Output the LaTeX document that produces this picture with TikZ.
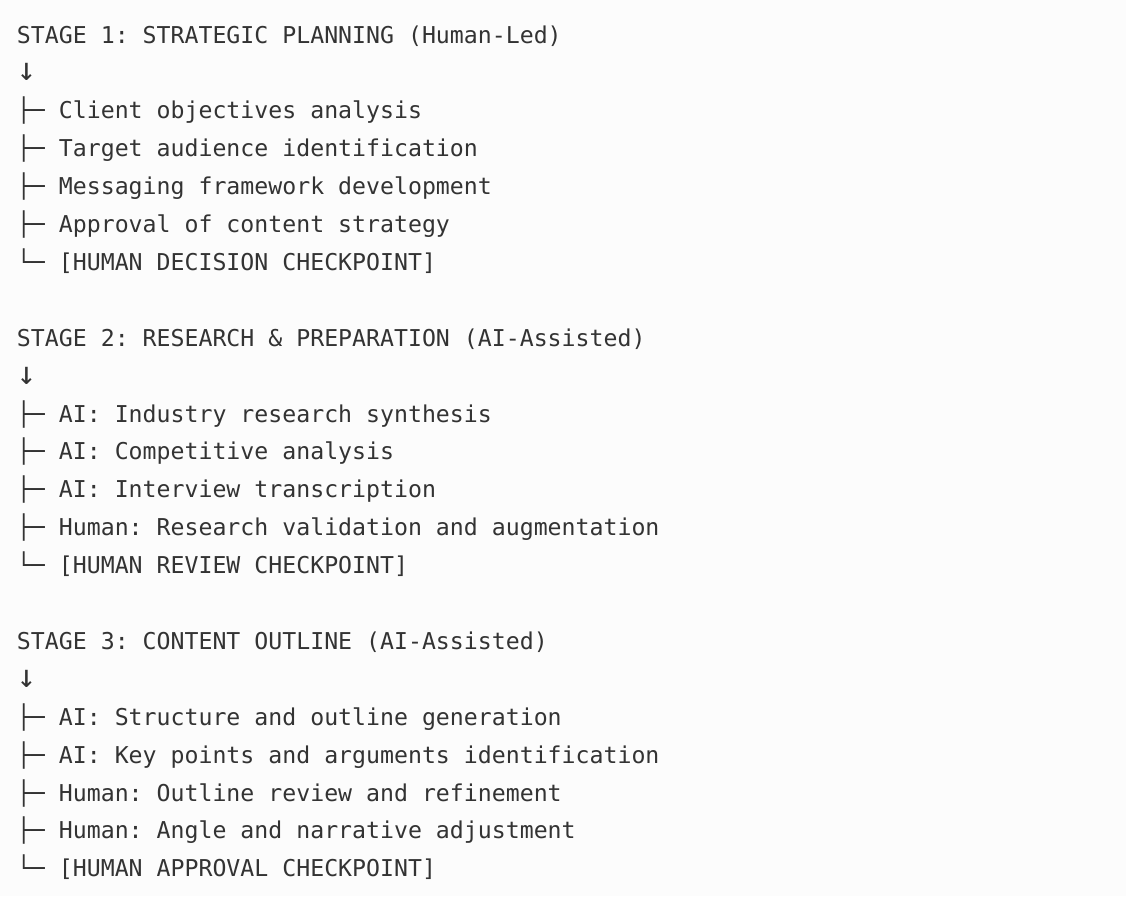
\documentclass[tikz,border=0pt]{standalone}
\usepackage{fontspec}
\setmonofont{DejaVu Sans Mono}
\definecolor{txt}{HTML}{333333}
\definecolor{bg}{HTML}{FCFCFC}
\newcommand{\dnarrow}{{\fontsize{16pt}{16pt}\selectfont ↓}}
\begin{document}
\begin{tikzpicture}[x=0.5pt,y=-0.5pt,
  ln/.style={anchor=base west,inner sep=0pt,outer sep=0pt,text=txt,font=\ttfamily\fontsize{11.6pt}{14pt}\selectfont}]
\fill[bg] (0,0) rectangle (1126,896);
\useasboundingbox (0,0) rectangle (1126,896);
\def\lp{37.9}
\foreach \i/\t [count=\k from 0] in {
  0/{STAGE 1: STRATEGIC PLANNING (Human-Led)},
  1/{\dnarrow},
  2/{├─ Client objectives analysis},
  3/{├─ Target audience identification},
  4/{├─ Messaging framework development},
  5/{├─ Approval of content strategy},
  6/{└─ [HUMAN DECISION CHECKPOINT]},
  8/{STAGE 2: RESEARCH \& PREPARATION (AI-Assisted)},
  9/{\dnarrow},
  10/{├─ AI: Industry research synthesis},
  11/{├─ AI: Competitive analysis},
  12/{├─ AI: Interview transcription},
  13/{├─ Human: Research validation and augmentation},
  14/{└─ [HUMAN REVIEW CHECKPOINT]},
  16/{STAGE 3: CONTENT OUTLINE (AI-Assisted)},
  17/{\dnarrow},
  18/{├─ AI: Structure and outline generation},
  19/{├─ AI: Key points and arguments identification},
  20/{├─ Human: Outline review and refinement},
  21/{├─ Human: Angle and narrative adjustment},
  22/{└─ [HUMAN APPROVAL CHECKPOINT]}}
{
  \node[ln] (l\i) at (17,{43+\lp*\i}) {\t};
}
\end{tikzpicture}
\end{document}
